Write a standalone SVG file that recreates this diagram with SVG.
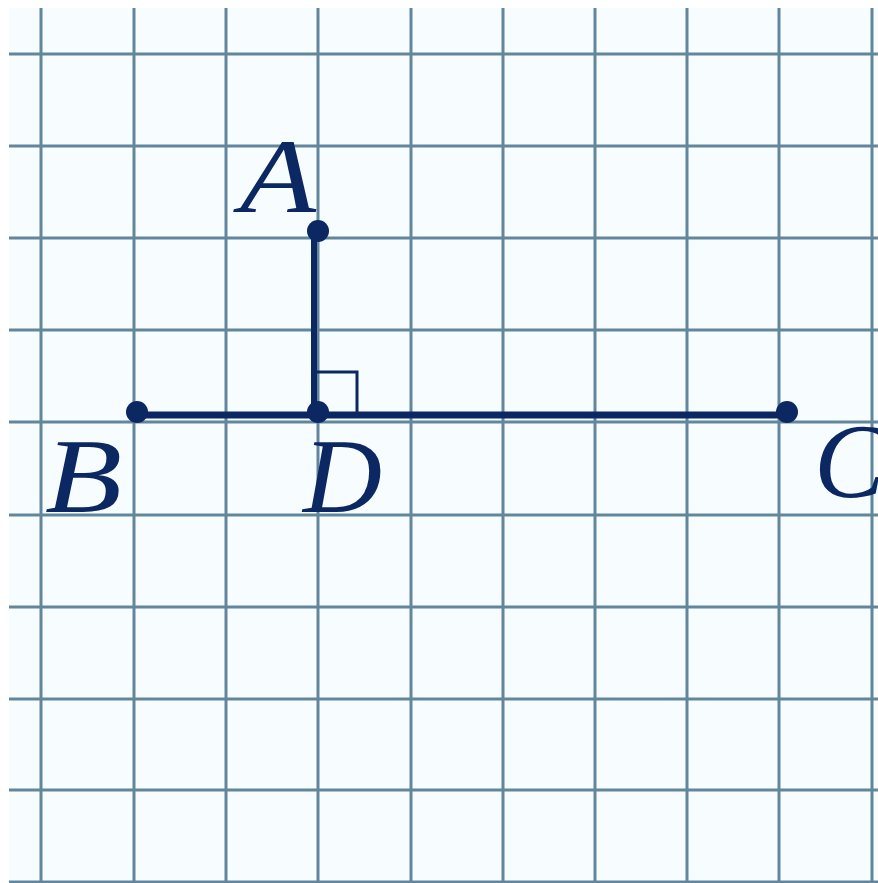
<svg xmlns="http://www.w3.org/2000/svg" width="878" height="883" viewBox="0 0 878 883">
<style>
.grid line{stroke:#62869c;stroke-width:3}
.fig{stroke:#0b2863;fill:none}
.dot{fill:#0b2863}
.lbl{font-family:"Liberation Serif","Times New Roman",serif;font-style:italic;font-size:106px;fill:#0b2863}
</style>
<rect x="0" y="0" width="878" height="883" fill="#ffffff"/>
<rect x="9" y="8" width="869" height="875" fill="#f7fcfe"/>
<g class="grid">
<line x1="41" y1="8" x2="41" y2="883"/>
<line x1="134" y1="8" x2="134" y2="883"/>
<line x1="226" y1="8" x2="226" y2="883"/>
<line x1="318" y1="8" x2="318" y2="883"/>
<line x1="411" y1="8" x2="411" y2="883"/>
<line x1="503" y1="8" x2="503" y2="883"/>
<line x1="595" y1="8" x2="595" y2="883"/>
<line x1="687" y1="8" x2="687" y2="883"/>
<line x1="779" y1="8" x2="779" y2="883"/>
<line x1="872" y1="8" x2="872" y2="883"/>
<line x1="9" y1="54" x2="878" y2="54"/>
<line x1="9" y1="146" x2="878" y2="146"/>
<line x1="9" y1="238" x2="878" y2="238"/>
<line x1="9" y1="330" x2="878" y2="330"/>
<line x1="9" y1="422" x2="878" y2="422"/>
<line x1="9" y1="515" x2="878" y2="515"/>
<line x1="9" y1="607" x2="878" y2="607"/>
<line x1="9" y1="699" x2="878" y2="699"/>
<line x1="9" y1="790" x2="878" y2="790"/>
<line x1="9" y1="882" x2="878" y2="882"/>
</g>
<g id="connectors">
<line class="fig" x1="314" y1="231" x2="314" y2="416" stroke-width="6"/>
<line class="fig" x1="137" y1="415" x2="787" y2="415" stroke-width="7"/>
<polyline class="fig" points="315,372 357,372 357,415" stroke-width="3"/>
</g>
<g id="A"><circle class="dot" cx="318" cy="231" r="11"/><text class="lbl" x="240" y="212" textLength="76" lengthAdjust="spacingAndGlyphs">A</text></g>
<g id="B"><circle class="dot" cx="137" cy="412" r="11"/><text class="lbl" x="45" y="512" textLength="77" lengthAdjust="spacingAndGlyphs">B</text></g>
<g id="D"><circle class="dot" cx="318" cy="412" r="11"/><text class="lbl" x="303" y="512" textLength="79" lengthAdjust="spacingAndGlyphs">D</text></g>
<g id="C"><circle class="dot" cx="787" cy="412" r="11"/><text class="lbl" x="814" y="497">C</text></g>
</svg>
